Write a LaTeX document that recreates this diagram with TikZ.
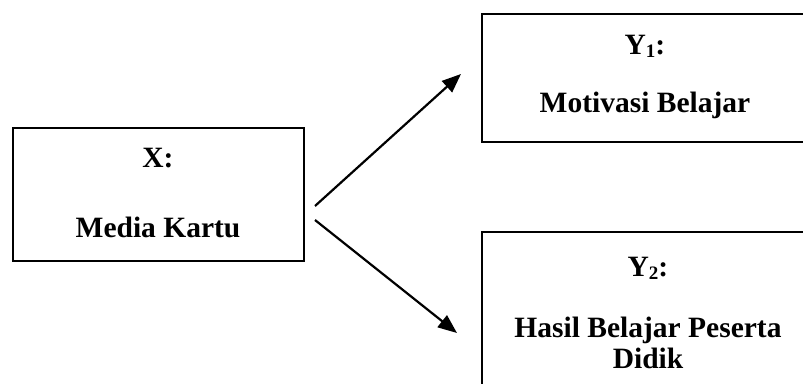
\documentclass[tikz,border=0pt]{standalone}
\usepackage{fontspec}
\setmainfont{Liberation Serif}
\usetikzlibrary{arrows.meta}
\newcommand{\lowidx}[1]{\raisebox{-3.5pt}{\fontsize{19}{19}\selectfont #1}}
\tikzset{
  box/.style={draw=black, line width=2pt, inner sep=0pt, fill=none},
  lbl/.style={anchor=base, inner sep=0pt, font=\fontsize{29.5}{35}\selectfont\bfseries},
  link/.style={line width=2.2pt, -{Triangle[length=19pt,width=15pt]}}
}
\begin{document}
\begin{tikzpicture}[x=1pt,y=-1pt]
  \useasboundingbox (0,0) rectangle (803,383);
  \clip (0,0) rectangle (803,383);
  % boxes
  \node[box, minimum width=291pt, minimum height=133pt] (x) at (158.5,194.5) {};
  \node[box, minimum width=322pt, minimum height=128pt] (y1) at (643,78) {};
  \node[box, minimum width=322pt, minimum height=164pt] (y2) at (643,314) {};
  % labels
  \node[lbl] (xt) at (158,167) {X:};
  \node[lbl] (xn) at (158,237) {Media Kartu};
  \node[lbl] (y1t) at (645,54) {Y\lowidx{1}:};
  \node[lbl] (y1n) at (645,112) {Motivasi Belajar};
  \node[lbl] (y2t) at (648,276) {Y\lowidx{2}:};
  \node[lbl] (y2n) at (648,337) {Hasil Belajar Peserta};
  \node[lbl] (y2m) at (648,368) {Didik};
  % arrows
  \coordinate (s1) at (315,206);
  \coordinate (e1) at (461,74);
  \coordinate (s2) at (315,220);
  \coordinate (e2) at (457,333);
  \draw[link] (s1) -- (e1);
  \draw[link] (s2) -- (e2);
\end{tikzpicture}
\end{document}
